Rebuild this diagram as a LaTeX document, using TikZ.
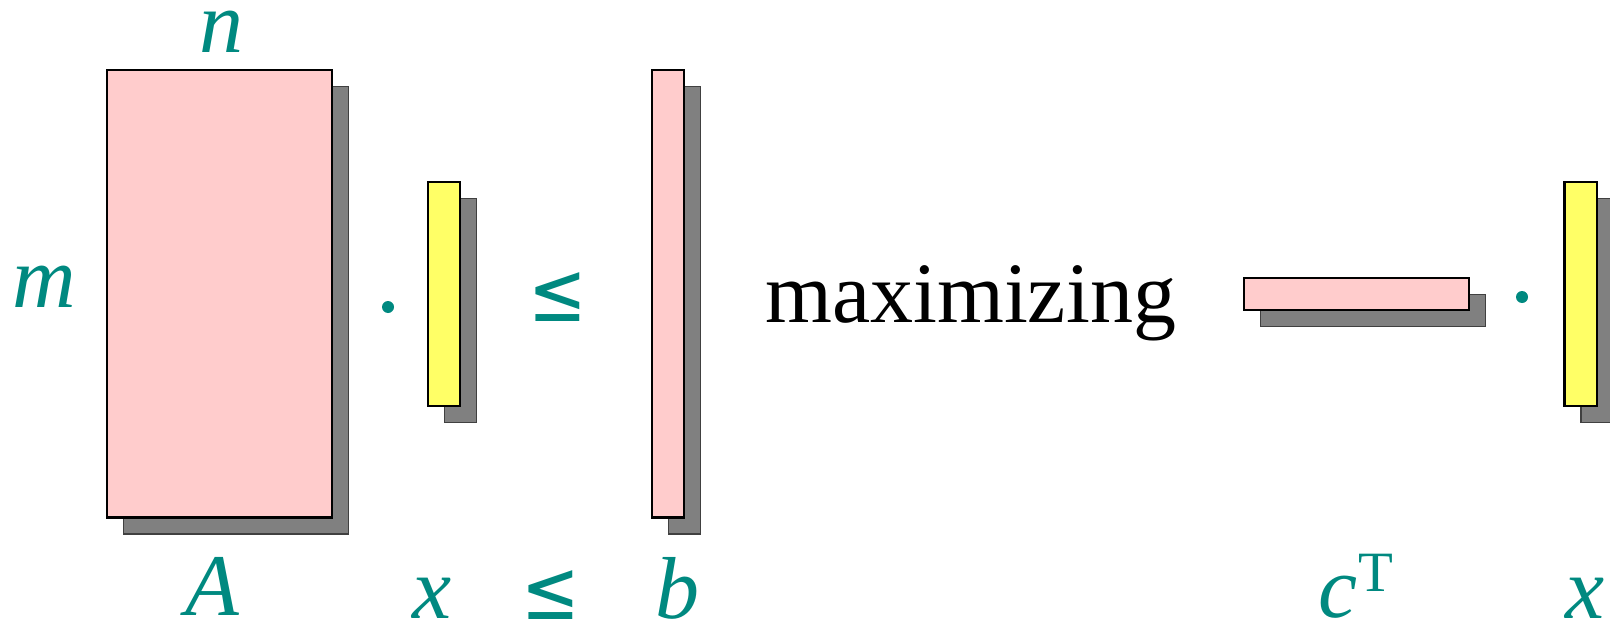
\documentclass[tikz,border=0pt]{standalone}
\usepackage{fontspec}
\setmainfont{Liberation Serif}
\newfontfamily\symfont{DejaVu Sans}
\definecolor{tealc}{RGB}{0,137,128}
\definecolor{matpink}{RGB}{255,204,204}
\definecolor{vecyellow}{RGB}{255,255,102}
\definecolor{shadowgray}{RGB}{128,128,128}
\newcommand{\tallle}{\scalebox{1}[1.2]{≤}}
\tikzset{
  box/.style={draw=black, line width=2.5pt, inner sep=0pt, outer sep=0pt},
  pinkbox/.style={box, fill=matpink},
  yellowbox/.style={box, fill=vecyellow},
  shadowbox/.style={draw=black!75, line width=1.5pt, fill=shadowgray, inner sep=0pt, outer sep=0pt},
  lab/.style={text=tealc, font=\fontsize{88}{90}\selectfont\itshape, anchor=base, inner sep=0pt, text height=0.45em, text depth=0pt},
  rel/.style={text=tealc, font=\fontsize{70}{72}\selectfont\symfont, anchor=base, inner sep=0pt, text depth=0pt},
  word/.style={text=black, font=\fontsize{86}{88}\selectfont, anchor=base, inner sep=0pt},
  dotn/.style={circle, fill=tealc, inner sep=0pt, minimum size=12pt},
}
\begin{document}
\begin{tikzpicture}[x=1pt,y=-1pt]
\useasboundingbox (0,0) rectangle (1610,621);
\clip (0,0) rectangle (1610,621);
% shadows
\node[shadowbox, minimum width=225pt, minimum height=447.5pt] (Ash) at (236,310.25) {};
\node[shadowbox, minimum width=32pt, minimum height=224pt] (xsh) at (460.5,310.5) {};
\node[shadowbox, minimum width=32pt, minimum height=447.5pt] (bsh) at (684.5,310.25) {};
\node[shadowbox, minimum width=225pt, minimum height=32pt] (csh) at (1373,310.5) {};
\node[shadowbox, minimum width=32.5pt, minimum height=224pt] (xrsh) at (1597,310.5) {};
% matrices and vectors
\node[pinkbox, minimum width=225pt, minimum height=447.5pt] (A) at (219.5,293.75) {};
\node[yellowbox, minimum width=32pt, minimum height=224pt] (x) at (444,294) {};
\node[pinkbox, minimum width=32pt, minimum height=447.5pt] (b) at (668,293.75) {};
\node[pinkbox, minimum width=225pt, minimum height=32pt] (c) at (1356.5,294) {};
\node[yellowbox, minimum width=32.5pt, minimum height=224pt] (xr) at (1580.5,294) {};
% operators
\node[dotn] (dot1) at (388,307) {};
\node[dotn] (dot2) at (1522,297) {};
\node[rel] (le1) at (557.5,321) {\tallle};
\node[word] (maxw) at (970.5,322) {maximizing};
% labels
\node[lab] (n) at (221,52) {n};
\node[lab] (m) at (44.5,307) {m};
\node[lab] (Al) at (212,615) {A};
\node[lab] (xl) at (432,618) {x};
\node[rel] (le2) at (551,619) {\tallle};
\node[lab] (bl) at (677,618) {b};
\node[lab] (cl) at (1338,617) {c};
\node[text=tealc, font=\fontsize{57}{60}\selectfont, anchor=base, inner sep=0pt] (Tl) at (1375.5,591) {T};
\node[lab] (xrl) at (1585,618) {x};
\end{tikzpicture}
\end{document}
